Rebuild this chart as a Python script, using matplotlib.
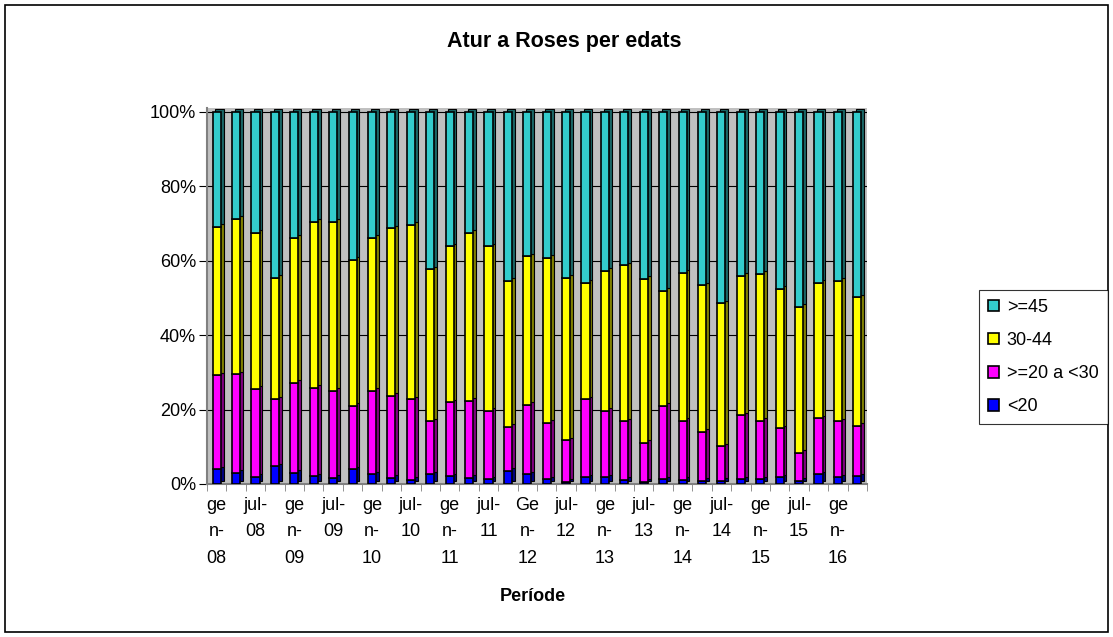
import numpy as np
import matplotlib
matplotlib.use('Agg')
import matplotlib.pyplot as plt
from matplotlib.patches import Rectangle

plt.rcParams['font.family'] = ['Liberation Sans', 'DejaVu Sans']

# Quarterly periods, gen-08 .. abr-16 (labels only on gen / jul)
tick_labels = ['ge\nn-\n08', 'jul-\n08', 'ge\nn-\n09', 'jul-\n09', 'ge\nn-\n10', 'jul-\n10',
               'ge\nn-\n11', 'jul-\n11', 'Ge\nn-\n12', 'jul-\n12', 'ge\nn-\n13', 'jul-\n13',
               'ge\nn-\n14', 'jul-\n14', 'ge\nn-\n15', 'jul-\n15', 'ge\nn-\n16']

# cumulative shares (%)
lt20 = [3.9, 3.0, 1.9, 4.8, 3.0, 2.1, 1.7, 4.0, 2.6, 1.7, 1.1, 2.6, 2.1, 1.7, 1.3, 3.5, 2.6,
        1.3, 0.6, 1.8, 1.8, 1.1, 0.6, 1.3, 1.1, 0.9, 0.9, 1.3, 1.3, 1.8, 0.9, 2.6, 1.8, 2.1]
upto30 = [29.2, 29.5, 25.5, 22.8, 27.2, 25.9, 25.0, 21.0, 25.0, 23.7, 22.8, 16.8, 21.9, 22.4, 19.7, 15.4, 21.2,
          16.4, 11.7, 22.8, 19.7, 16.8, 11.1, 21.0, 17.0, 14.1, 10.1, 18.5, 17.0, 15.0, 8.3, 17.6, 16.8, 15.7]
upto45 = [69.1, 71.3, 67.4, 55.4, 66.1, 70.4, 70.4, 60.3, 66.1, 68.7, 69.6, 57.7, 63.9, 67.4, 63.9, 54.6, 61.2,
          60.7, 55.4, 54.1, 57.2, 58.7, 55.1, 51.9, 56.8, 53.4, 48.5, 56.0, 56.5, 52.5, 47.6, 54.1, 54.6, 50.1]

lt20 = np.array(lt20)
g20_30 = np.array(upto30) - lt20
g30_44 = np.array(upto45) - np.array(upto30)
ge45 = 100 - np.array(upto45)

series = [('<20', lt20, '#0000FF', '#000080'),
          ('>=20 a <30', g20_30, '#FF00FF', '#800080'),
          ('30-44', g30_44, '#FFFF00', '#808000'),
          ('>=45', ge45, '#33CCCC', '#1A6666')]

x = np.arange(len(lt20))
W, H = 1113, 637
fig = plt.figure(figsize=(W / 100, H / 100), dpi=100)
fig.patches.append(Rectangle((5 / W, 5 / H), 1103 / W, 627 / H, transform=fig.transFigure,
                             fill=False, edgecolor='black', linewidth=1.2))

ax = fig.add_axes([207 / W, 1 - 484 / H, 660 / W, 376 / H])
ax.set_facecolor('#C0C0C0')

width = 0.42
handles = {}
bottom = np.zeros(len(x))
for name, vals, col, dark in series:
    # darker strip behind each bar for the 3-D side face
    ax.bar(x + 0.14, vals, width, bottom=bottom + 0.7, color=dark, edgecolor='black',
           linewidth=0.8, zorder=2)
    b = ax.bar(x, vals, width, bottom=bottom, color=col, edgecolor='black', linewidth=1.2, zorder=3)
    handles[name] = b
    bottom = bottom + vals

ax.set_xlim(-0.5, len(x) - 0.5)
ax.set_ylim(0, 101)
ax.set_yticks(np.arange(0, 101, 20))
ax.set_yticklabels([f'{v}%' for v in range(0, 101, 20)], fontsize=13)
ax.yaxis.grid(True, color='black', linewidth=0.8)
ax.set_axisbelow(True)

ax.set_xticks(x[::2])
ax.set_xticklabels(tick_labels, fontsize=13, linespacing=1.75, va='top')
ax.set_xticks(np.arange(-0.5, len(x), 1), minor=True)
ax.tick_params(axis='x', which='major', length=0, pad=9)
ax.tick_params(axis='x', which='minor', length=5, color='#808080')
ax.tick_params(axis='y', length=6, color='black', pad=2)
for s in ['top', 'right']:
    ax.spines[s].set_visible(False)
ax.spines['left'].set_color('#808080')
ax.spines['bottom'].set_color('#808080')
ax.spines['left'].set_linewidth(1.5)
ax.spines['bottom'].set_linewidth(1.5)

fig.text(564 / W, 1 - 47 / H, 'Atur a Roses per edats', ha='center', va='baseline',
         fontsize=15.5, fontweight='bold')
fig.text(533 / W, 1 - 601 / H, 'Període', ha='center', va='baseline', fontsize=13,
         fontweight='bold')

order = ['>=45', '30-44', '>=20 a <30', '<20']
leg = fig.legend([handles[n] for n in order], order, loc='upper left',
                 bbox_to_anchor=(979 / W, 1 - 290 / H), fontsize=13, frameon=True,
                 fancybox=False, edgecolor='black', handlelength=0.6, handleheight=0.6,
                 borderpad=0.5, labelspacing=0.89, handletextpad=0.44, borderaxespad=0)
leg.get_frame().set_linewidth(0.8)

fig.savefig('out.png', dpi=100)
